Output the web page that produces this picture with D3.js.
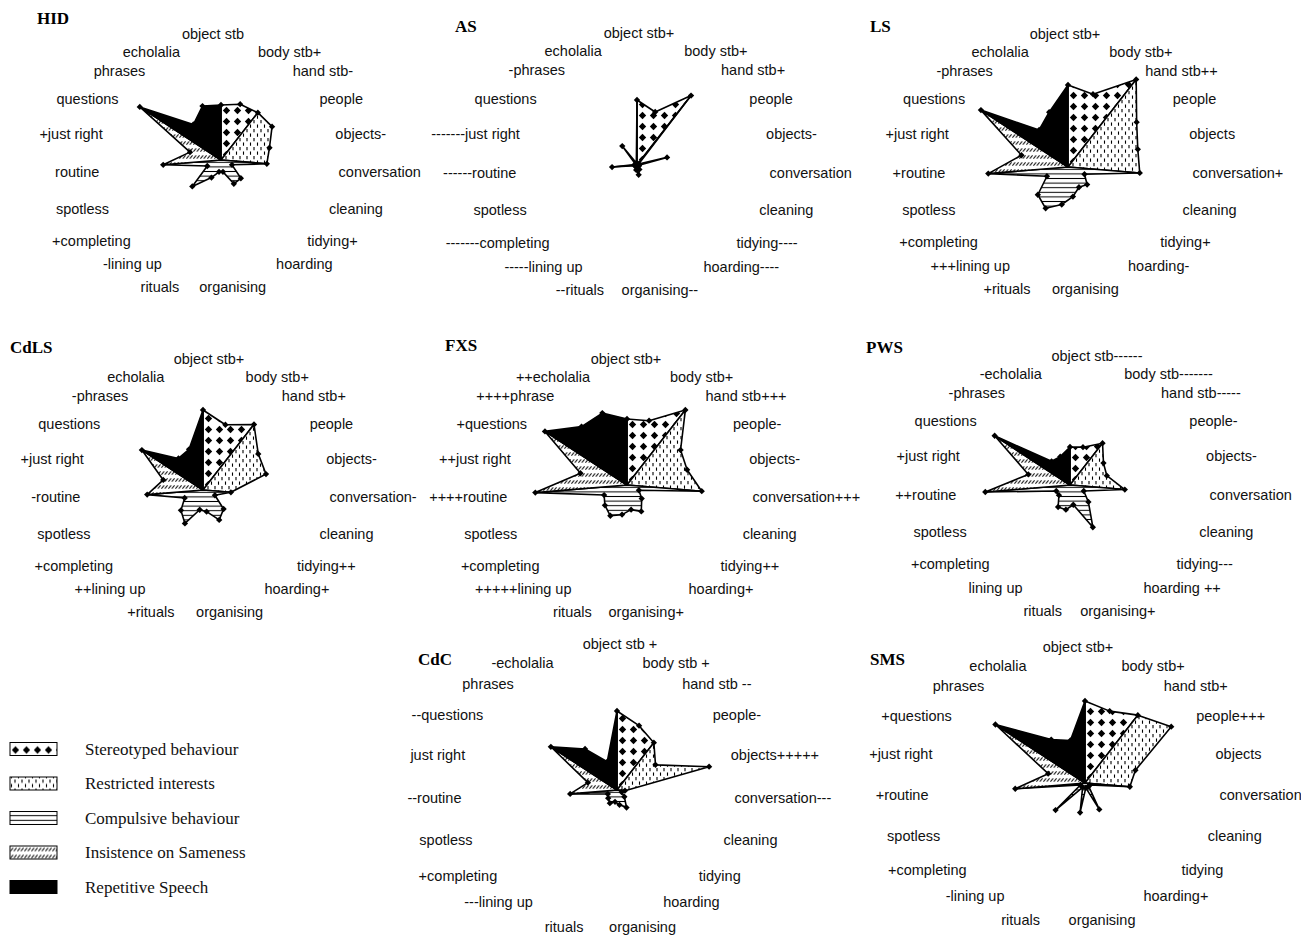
<!DOCTYPE html>
<html>
<head>
<meta charset="utf-8">
<script src="https://cdn.jsdelivr.net/npm/d3@7/dist/d3.min.js"></script>
<style>
body { margin: 0; background: #fff; }
svg { display: block; }
</style>
</head>
<body>
<svg id="chart" width="1301" height="937"></svg>
<script>
// RBQ items, clockwise from the top
var axes = ["object stb", "body stb", "hand stb", "people", "objects", "conversation",
  "cleaning", "tidying", "hoarding", "organising", "rituals", "lining up", "completing",
  "spotless", "routine", "just right", "questions", "phrases", "echolalia"];

var subscales = ["Stereotyped behaviour", "Restricted interests", "Compulsive behaviour",
  "Insistence on Sameness", "Repetitive Speech"];
// first and last item index of each filled fan
var subscaleSpan = [[0, 2], [2, 5], [5, 14], [14, 16], [16, 19]];

var syndromes = ["HID", "AS", "LS", "CdLS", "FXS", "PWS", "CdC", "SMS"];

// item scores, same order as axes
var hidScores  = [55, 59, 60, 61, 50, 46, 12, 27, 27, 12, 12, 20, 39, 15, 58, 32, 97, 45, 57];
var asScores   = [65, 56, 88, 2, 31, 2, 2, 2, 5, 10, 5, 2, 2, 2, 25, 2, 2, 24, 2];
var lsScores   = [82, 77, 111, 82, 72, 72, 18, 26, 23, 30, 38, 47, 41, 23, 80, 48, 104, 47, 58];
var cdlsScores = [80, 69, 83, 66, 65, 28, 13, 28, 34, 22, 20, 38, 30, 20, 56, 41, 73, 40, 43];
var fxsScores  = [66, 68, 95, 64, 62, 75, 13, 20, 30, 25, 30, 35, 30, 25, 92, 48, 98, 74, 76];
var pwsScores  = [38, 40, 53, 40, 38, 55, 15, 25, 48, 20, 25, 25, 15, 15, 85, 43, 90, 30, 30];
var cdcScores  = [79, 68, 60, 46, 95, 8, 5, 10, 20, 15, 12, 15, 12, 10, 47, 30, 79, 52, 30];
var smsScores  = [82, 76, 86, 103, 52, 45, 5, 5, 30, 5, 30, 5, 40, 5, 70, 38, 107, 55, 45];

// item labels as printed on each panel
var hidLabels  = ["object stb", "body stb+", "hand stb-", "people", "objects-", "conversation", "cleaning", "tidying+", "hoarding", "organising", "rituals", "-lining up", "+completing", "spotless", "routine", "+just right", "questions", "phrases", "echolalia"];
var asLabels   = ["object stb+", "body stb+", "hand stb+", "people", "objects-", "conversation", "cleaning", "tidying----", "hoarding----", "organising--", "--rituals", "-----lining up", "-------completing", "spotless", "------routine", "-------just right", "questions", "-phrases", "echolalia"];
var lsLabels   = ["object stb+", "body stb+", "hand stb++", "people", "objects", "conversation+", "cleaning", "tidying+", "hoarding-", "organising", "+rituals", "+++lining up", "+completing", "spotless", "+routine", "+just right", "questions", "-phrases", "echolalia"];
var cdlsLabels = ["object stb+", "body stb+", "hand stb+", "people", "objects-", "conversation-", "cleaning", "tidying++", "hoarding+", "organising", "+rituals", "++lining up", "+completing", "spotless", "-routine", "+just right", "questions", "-phrases", "echolalia"];
var fxsLabels  = ["object stb+", "body stb+", "hand stb+++", "people-", "objects-", "conversation+++", "cleaning", "tidying++", "hoarding+", "organising+", "rituals", "+++++lining up", "+completing", "spotless", "++++routine", "++just right", "+questions", "++++phrase", "++echolalia"];
var pwsLabels  = ["object stb------", "body stb-------", "hand stb-----", "people-", "objects-", "conversation", "cleaning", "tidying---", "hoarding ++", "organising+", "rituals", "lining up", "+completing", "spotless", "++routine", "+just right", "questions", "-phrases", "-echolalia"];
var cdcLabels  = ["object stb +", "body stb +", "hand stb --", "people-", "objects+++++", "conversation---", "cleaning", "tidying", "hoarding", "organising", "rituals", "---lining up", "+completing", "spotless", "--routine", "just right", "--questions", "phrases", "-echolalia"];
var smsLabels  = ["object stb+", "body stb+", "hand stb+", "people+++", "objects", "conversation", "cleaning", "tidying", "hoarding+", "organising", "rituals", "-lining up", "+completing", "spotless", "+routine", "+just right", "+questions", "phrases", "echolalia"];

var scores = [hidScores, asScores, lsScores, cdlsScores, fxsScores, pwsScores, cdcScores, smsScores];
var itemLabels = [hidLabels, asLabels, lsLabels, cdlsLabels, fxsLabels, pwsLabels, cdcLabels, smsLabels];

// panel layout: radar centre, label ring (with a shift for the pole labels), title spot
var panels = [
  {cx: 221, cy: 160, lx: 219, ly: 162, rx: 120, ry: 116, px: -6, tx: 37, ty: 24},
  {cx: 637, cy: 165, lx: 643, ly: 163, rx: 127, ry: 118, px: -4, tx: 455, ty: 32},
  {cx: 1068, cy: 167, lx: 1069, ly: 163, rx: 124, ry: 117, px: -4, tx: 870, ty: 32},
  {cx: 203, cy: 490, lx: 205, ly: 487, rx: 125, ry: 116, px: 4, tx: 10, ty: 353},
  {cx: 627, cy: 485, lx: 630, ly: 487, rx: 123, ry: 116, px: -4, tx: 445, ty: 351},
  {cx: 1070, cy: 485, lx: 1083, ly: 485, rx: 127, ry: 117, px: 14, tx: 866, ty: 353},
  {cx: 617, cy: 790, lx: 598, ly: 787, rx: 137, ry: 131, px: 22, tx: 418, ty: 665},
  {cx: 1085, cy: 783, lx: 1074, ly: 785, rx: 146, ry: 126, px: 4, tx: 870, ty: 665}
];

var svg = d3.select("#chart");
svg.append("rect").attr("width", 1301).attr("height", 937).attr("fill", "#fff");

// fill patterns, one per subscale
var defs = svg.append("defs");
function diamondPattern(id, dy) {
  var p = defs.append("pattern").attr("id", id).attr("patternUnits", "userSpaceOnUse")
    .attr("width", 11).attr("height", 11)
    .attr("patternTransform", "translate(0," + dy + ")");
  p.append("rect").attr("width", 11).attr("height", 11).attr("fill", "#fff");
  p.append("path").attr("d", "M5.5,1.8L9.2,5.5L5.5,9.2L1.8,5.5Z").attr("fill", "#000");
}
diamondPattern("pat0", 0);
diamondPattern("patL0", 6.5);

var p1 = defs.append("pattern").attr("id", "pat1").attr("patternUnits", "userSpaceOnUse")
  .attr("width", 7).attr("height", 9);
p1.append("rect").attr("width", 7).attr("height", 9).attr("fill", "#fff");
p1.append("path").attr("d", "M1.5,0.5V3.8M5,5V8.3").attr("stroke", "#000").attr("stroke-width", 1.1);

var p2 = defs.append("pattern").attr("id", "pat2").attr("patternUnits", "userSpaceOnUse")
  .attr("width", 6).attr("height", 4.6);
p2.append("rect").attr("width", 6).attr("height", 4.6).attr("fill", "#fff");
p2.append("path").attr("d", "M0,2.3H6").attr("stroke", "#000").attr("stroke-width", 1);

var p3 = defs.append("pattern").attr("id", "pat3").attr("patternUnits", "userSpaceOnUse")
  .attr("width", 3.5).attr("height", 7);
p3.append("rect").attr("width", 3.5).attr("height", 7).attr("fill", "#fff");
p3.append("path").attr("d", "M0.4,5.6L3.1,2.4").attr("stroke", "#000").attr("stroke-width", 0.9);

var fills = ["url(#pat0)", "url(#pat1)", "url(#pat2)", "url(#pat3)", "#000"];
var legendFills = ["url(#patL0)", "url(#pat1)", "url(#pat2)", "url(#pat3)", "#000"];

var angle = d3.scaleLinear().domain([0, axes.length]).range([0, 2 * Math.PI]);
var radius = d3.scaleLinear().domain([0, 100]).range([0, 100]);
var marker = d3.symbol().type(d3.symbolSquare).size(20);

function anchorOf(i) {
  var s = Math.sin(angle(i));
  return s > 0.2 ? "start" : (s < -0.1 ? "end" : "middle");
}

panels.forEach(function(p, k) {
  var pts = scores[k].map(function(v, i) { return d3.pointRadial(angle(i), radius(v)); });
  var g = svg.append("g").attr("transform", "translate(" + p.cx + "," + p.cy + ")");

  g.selectAll("path.fan")
    .data(subscaleSpan)
    .join("path")
    .attr("class", "fan")
    .attr("d", function(s) {
      var poly = [[0, 0]];
      for (var i = s[0]; i <= s[1]; i++) poly.push(pts[i % axes.length]);
      return d3.line()(poly) + "Z";
    })
    .attr("fill", function(s, i) { return fills[i]; })
    .attr("stroke", "#000")
    .attr("stroke-width", 1.6)
    .attr("stroke-linejoin", "round");

  g.selectAll("path.mk")
    .data(pts)
    .join("path")
    .attr("class", "mk")
    .attr("d", marker)
    .attr("transform", function(d) { return "translate(" + d[0] + "," + d[1] + ") rotate(45)"; })
    .attr("fill", "#000");

  // item labels on an ellipse round the radar; the ones at the poles sit a bit further out
  svg.append("g").selectAll("text")
    .data(itemLabels[k])
    .join("text")
    .attr("x", function(d, i) {
      var a = angle(i), x = p.lx + p.rx * Math.sin(a);
      if (Math.abs(Math.sin(a)) < 0.2) x += p.px;
      if (anchorOf(i) === "end" && Math.cos(a) < -0.9) x -= 14;
      return x;
    })
    .attr("y", function(d, i) {
      var a = angle(i), c = Math.cos(a), y = p.ly - p.ry * c;
      if (Math.abs(Math.sin(a)) < 0.2) y += c > 0 ? -12 : 11;
      return y;
    })
    .attr("dy", "0.35em")
    .attr("text-anchor", function(d, i) { return anchorOf(i); })
    .style("font-family", "'Liberation Sans', Arial, sans-serif")
    .style("font-size", "14.5px")
    .attr("fill", "#111")
    .text(function(d) { return d; });

  svg.append("text")
    .attr("x", p.tx)
    .attr("y", p.ty)
    .style("font-family", "'Liberation Serif', 'Times New Roman', serif")
    .style("font-weight", "bold")
    .style("font-size", "17px")
    .text(syndromes[k]);
});

// legend
var legend = svg.append("g").attr("transform", "translate(10,749)");
var rows = legend.selectAll("g")
  .data(subscales)
  .join("g")
  .attr("transform", function(d, i) { return "translate(0," + (i * 34.5) + ")"; });
rows.append("rect")
  .attr("x", 0).attr("y", -6.5).attr("width", 47).attr("height", 13)
  .attr("fill", function(d, i) { return legendFills[i]; })
  .attr("stroke", "#000").attr("stroke-width", 1);
rows.append("text")
  .attr("x", 75).attr("y", 0).attr("dy", "0.35em")
  .style("font-family", "'Liberation Serif', 'Times New Roman', serif")
  .style("font-size", "17px")
  .attr("fill", "#111")
  .text(function(d) { return d; });
</script>
</body>
</html>
